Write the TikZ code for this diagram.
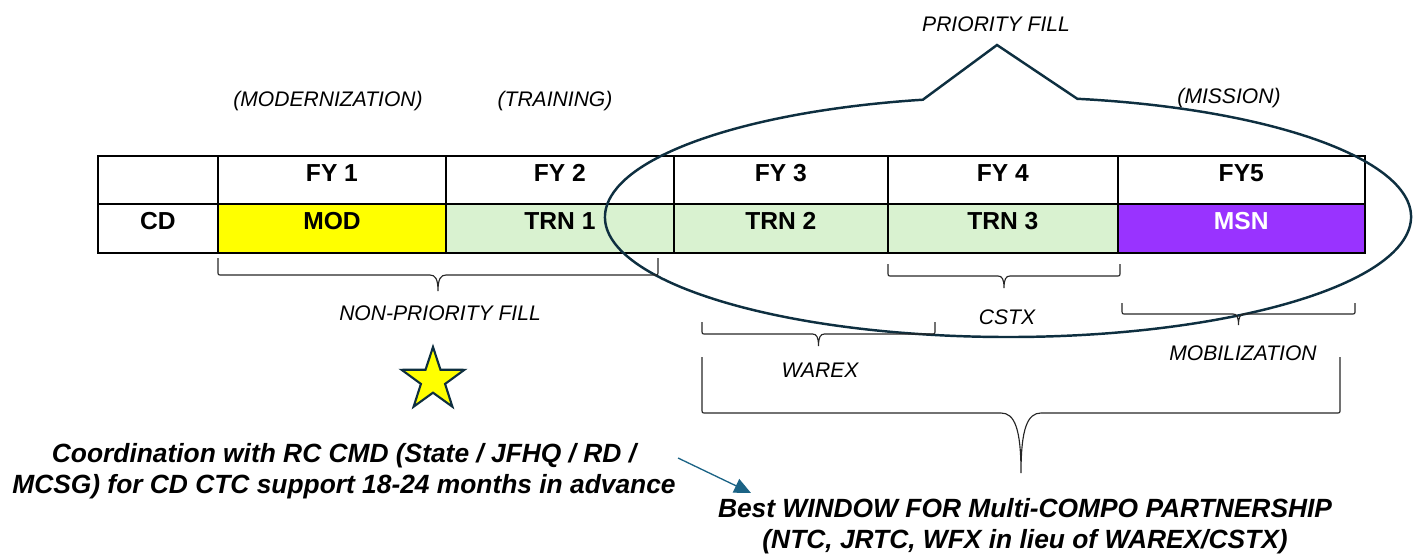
\documentclass[tikz,border=0pt]{standalone}
\usepackage{fontspec}
\setmainfont{Liberation Sans}
\usetikzlibrary{shapes.geometric,arrows.meta,positioning}
\definecolor{modyellow}{HTML}{FFFF00}
\definecolor{trngreen}{HTML}{D9F2D0}
\definecolor{msnpurple}{HTML}{9933FF}
\definecolor{ovalnavy}{HTML}{0E2F40}
\definecolor{ptrblue}{HTML}{1B6385}
\newcommand\tabfont{\fontsize{14}{16}\selectfont\bfseries}
\newcommand\lblfont{\fontsize{12}{14}\selectfont\itshape}
\newcommand\notefont{\fontsize{15}{17.5}\selectfont\bfseries\itshape}
\newcommand\ubrace[5]{%
  \pgfmathsetmacro\bmid{(#1+#2)/2}%
  \pgfmathsetmacro\bk{min(20,(#5-#4)*0.5)}%
  \pgfmathsetmacro\bq{#4+(#5-#4)/4}%
  \pgfmathsetmacro\bl{\bmid-\bk}%
  \pgfmathsetmacro\br{\bmid+\bk}%
  \pgfmathsetmacro\bll{\bmid-\bk/3}%
  \pgfmathsetmacro\brr{\bmid+\bk/3}%
  \draw[brc] (#1,#3) -- (#1,#4-4) .. controls (#1,#4) .. (#1+4,#4)
    -- (\bl,#4) .. controls (\bll,#4) and (\bmid,\bq) .. (\bmid,#5)
    .. controls (\bmid,\bq) and (\brr,#4) .. (\br,#4)
    -- (#2-4,#4) .. controls (#2,#4) .. (#2,#4-4) -- (#2,#3);}

\begin{document}
\begin{tikzpicture}[
    x=0.02cm, y=-0.02cm,
    node distance=0pt,
    >=Stealth,
    cell/.style={
        draw, line width=1.1pt, outer sep=0pt, inner sep=0pt,
        minimum height=0.97cm, text height=0.35cm, text depth=0.29cm,
        font=\tabfont
    },
    lbl/.style={font=\lblfont, inner sep=0pt},
    note/.style={font=\notefont, align=center, inner sep=0pt},
    brc/.style={line width=0.65pt, color=black!85},
    callout/.style={line width=1.4pt, draw=ovalnavy},
    pointer/.style={-{Triangle[length=9.5pt,width=8.5pt]}, line width=0.75pt, color=ptrblue}
]
    \useasboundingbox (0,0) rectangle (1422,557);

    \node[cell, minimum width=2.4cm] (h0) at (158,180) {};
    \node[cell, minimum width=4.56cm, right=of h0] (h1) {FY 1};
    \node[cell, minimum width=4.56cm, right=of h1] (h2) {FY 2};
    \node[cell, minimum width=4.28cm, right=of h2] (h3) {FY 3};
    \node[cell, minimum width=4.6cm, right=of h3] (h4) {FY 4};
    \node[cell, minimum width=4.94cm, right=of h4] (h5) {FY5};

    \node[cell, minimum width=2.4cm, below=of h0] (r0) {CD};
    \node[cell, minimum width=4.56cm, fill=modyellow, below=of h1] (r1) {MOD};
    \node[cell, minimum width=4.56cm, fill=trngreen, below=of h2] (r2) {TRN 1};
    \node[cell, minimum width=4.28cm, fill=trngreen, below=of h3] (r3) {TRN 2};
    \node[cell, minimum width=4.6cm, fill=trngreen, below=of h4] (r4) {TRN 3};
    \node[cell, minimum width=4.94cm, fill=msnpurple, text=white, below=of h5] (r5) {MSN};

    \node[lbl] (modlbl) at (328,101) {(MODERNIZATION)};
    \node[lbl] (trnlbl) at (555,101) {(TRAINING)};
    \node[lbl] (msnlbl) at (1229,98) {(MISSION)};
    \node[lbl] (prio) at (996,24) {PRIORITY FILL};

    \coordinate (oval) at (1008,217);
    \coordinate (peak) at (997,45);
    \draw[callout] (peak) -- ([shift={(-80.1:403 and 120)}]oval)
        arc[start angle=-80.1, end angle=257.8, x radius=403, y radius=120] -- cycle;

    \ubrace{218}{658}{258}{275}{291}
    \ubrace{888}{1120}{264}{276}{288}
    \ubrace{702}{935}{322}{334}{346}
    \ubrace{1122}{1355}{303}{314}{325}
    \ubrace{702}{1340}{357}{413}{473}

    \node[lbl] (nonprio) at (440,313) {NON-PRIORITY FILL};
    \node[lbl] (cstx) at (1007,317) {CSTX};
    \node[lbl] (warex) at (820,370) {WAREX};
    \node[lbl] (mobil) at (1243,353) {MOBILIZATION};

    \node[star, star points=5, star point ratio=2.6, minimum size=1.32cm, inner sep=0pt,
          fill=modyellow, draw=ovalnavy, line width=1.2pt] (star) at (433,380) {};

    \node[note] (coord) at (344,471) {Coordination with RC CMD (State / JFHQ / RD /\\MCSG) for CD CTC support 18-24 months in advance};
    \node[note] (best) at (1025,526) {Best WINDOW FOR Multi-COMPO PARTNERSHIP\\(NTC, JRTC, WFX in lieu of WAREX/CSTX)};

    \coordinate (ptail) at (678,458);
    \coordinate (phead) at (751,493);
    \draw[pointer] (ptail) -- (phead);
\end{tikzpicture}
\end{document}
